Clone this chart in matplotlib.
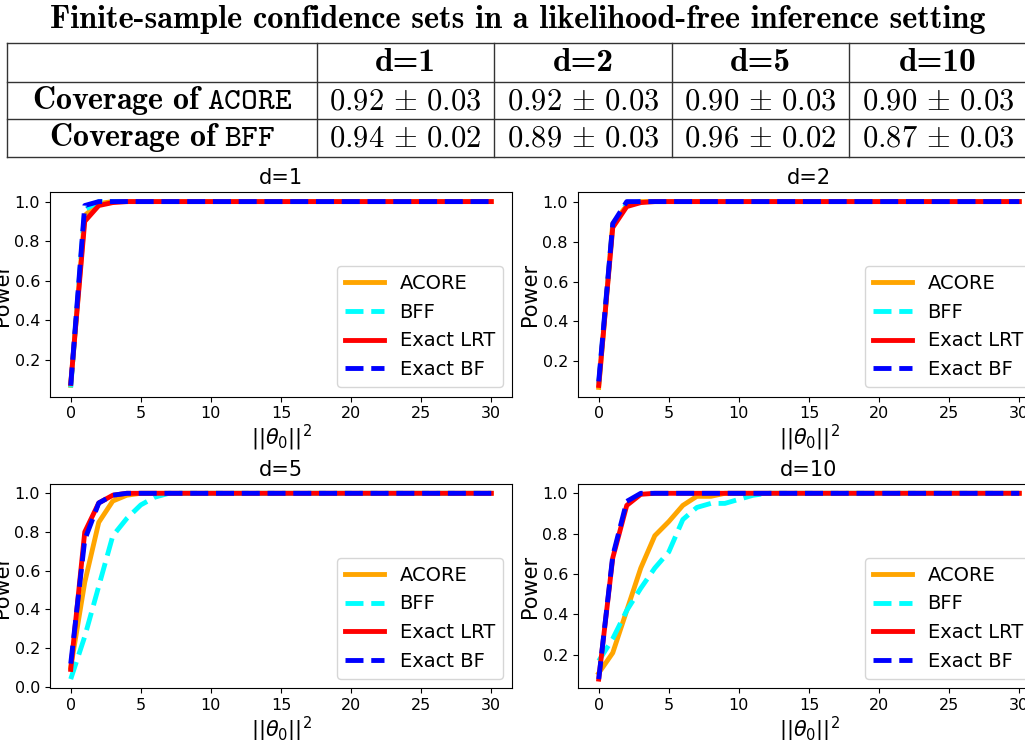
import numpy as np
import matplotlib
matplotlib.use("Agg")
import matplotlib.pyplot as plt
from matplotlib.lines import Line2D

# ---------------- data ----------------
x_vals = list(range(0, 31))

d1_acore = [0.07, 0.93, 0.99] + [1.0] * 28
d1_bff   = [0.06, 0.96, 1.0] + [1.0] * 28
d1_lrt   = [0.08, 0.90, 0.98, 0.995] + [1.0] * 27
d1_bf    = [0.07, 0.98, 1.0] + [1.0] * 28

d2_acore = [0.07, 0.89, 0.98] + [1.0] * 28
d2_bff   = [0.09, 0.88, 0.99] + [1.0] * 28
d2_lrt   = [0.08, 0.87, 0.975, 0.995] + [1.0] * 27
d2_bf    = [0.10, 0.89, 1.0] + [1.0] * 28

d5_acore = [0.10, 0.54, 0.85, 0.96, 0.99] + [1.0] * 26
d5_bff   = [0.04, 0.26, 0.52, 0.78, 0.87, 0.94, 0.98] + [1.0] * 24
d5_lrt   = [0.09, 0.80, 0.95, 0.99] + [1.0] * 27
d5_bf    = [0.12, 0.76, 0.95, 0.99] + [1.0] * 27

d10_acore = [0.11, 0.21, 0.42, 0.63, 0.79, 0.86, 0.94, 0.985, 0.985] + [1.0] * 22
d10_bff   = [0.17, 0.28, 0.42, 0.53, 0.63, 0.71, 0.87, 0.93, 0.95, 0.95, 0.97, 0.99] + [1.0] * 19
d10_lrt   = [0.08, 0.68, 0.94, 0.995] + [1.0] * 27
d10_bf    = [0.08, 0.69, 0.96, 1.0] + [1.0] * 27

panel_titles = ["d=1", "d=2", "d=5", "d=10"]
series_names = ["ACORE", "BFF", "Exact LRT", "Exact BF"]
series_colors = ["orange", "cyan", "red", "blue"]
series_styles = ["-", "--", "-", "--"]

table_cols = ["d=1", "d=2", "d=5", "d=10"]
cov_acore = ["0.92", "0.92", "0.90", "0.90"]
cov_bff = ["0.94", "0.89", "0.96", "0.87"]
cov_err_acore = ["0.03", "0.03", "0.03", "0.03"]
cov_err_bff = ["0.02", "0.03", "0.02", "0.03"]

panel_data = [
    [d1_acore, d1_bff, d1_lrt, d1_bf],
    [d2_acore, d2_bff, d2_lrt, d2_bf],
    [d5_acore, d5_bff, d5_lrt, d5_bf],
    [d10_acore, d10_bff, d10_lrt, d10_bf],
]

# ---------------- figure ----------------
W, H = 1025, 740
fig = plt.figure(figsize=(W / 100, H / 100), dpi=100)

def fx(px):
    return px / W

def fy(py):
    return 1 - py / H

# Title
fig.text(fx(518), fy(19), "Finite-sample confidence sets in a likelihood-free inference setting",
         fontfamily="cmb10", fontsize=23.3, ha="center", va="center")

# Table grid
tbl_rows = [43, 82, 119, 157]
col_x = [7, 317, 494, 672, 849, 1027]
lc = "#333333"
for yy in tbl_rows:
    fig.add_artist(Line2D([fx(col_x[0]), fx(1030)], [fy(yy), fy(yy)], color=lc, lw=1.0))
for xx in col_x[:-1]:
    fig.add_artist(Line2D([fx(xx), fx(xx)], [fy(tbl_rows[0]), fy(tbl_rows[-1])], color=lc, lw=1.0))

def ccx(i):
    return fx((col_x[i] + col_x[i + 1]) / 2)

def ccy(r):
    return fy((tbl_rows[r] + tbl_rows[r + 1]) / 2)

for j, c in enumerate(table_cols):
    fig.text(ccx(j + 1), ccy(0), c, fontfamily="cmb10", fontsize=24, ha="center", va="center")

fig.text(ccx(0), ccy(1), r"$\mathbf{Coverage\ of}\ \mathtt{ACORE}$", math_fontfamily="cm",
         fontsize=23, ha="center", va="center")
fig.text(ccx(0), ccy(2), r"$\mathbf{Coverage\ of}\ \mathtt{BFF}$", math_fontfamily="cm",
         fontsize=23, ha="center", va="center")
for j in range(4):
    fig.text(ccx(j + 1), ccy(1), r"$%s\,\pm\,%s$" % (cov_acore[j], cov_err_acore[j]),
             math_fontfamily="cm", fontsize=22, ha="center", va="center")
    fig.text(ccx(j + 1), ccy(2), r"$%s\,\pm\,%s$" % (cov_bff[j], cov_err_bff[j]),
             math_fontfamily="cm", fontsize=22, ha="center", va="center")

# Axes
ax_w, ax_h = 462.6, 204.4
positions = [(49.7, 192.3), (577.7, 192.3), (49.7, 484.0), (577.7, 484.0)]
for k, (lx, ty) in enumerate(positions):
    ax = fig.add_axes([fx(lx), fy(ty + ax_h), fx(ax_w), ax_h / H])
    for s in range(4):
        ax.plot(x_vals, panel_data[k][s], color=series_colors[s], ls=series_styles[s],
                lw=3.5, label=series_names[s])
    ax.set_title(panel_titles[k], fontsize=15)
    ax.set_xlabel(r"$||\theta_0||^2$", fontsize=15, labelpad=1)
    ax.set_ylabel("Power", fontsize=15, labelpad=2)
    ax.tick_params(labelsize=11.5)
    ax.set_xticks([0, 5, 10, 15, 20, 25, 30])
    ax.legend(loc="lower right", fontsize=14)

fig.savefig("out.png", dpi=100)
